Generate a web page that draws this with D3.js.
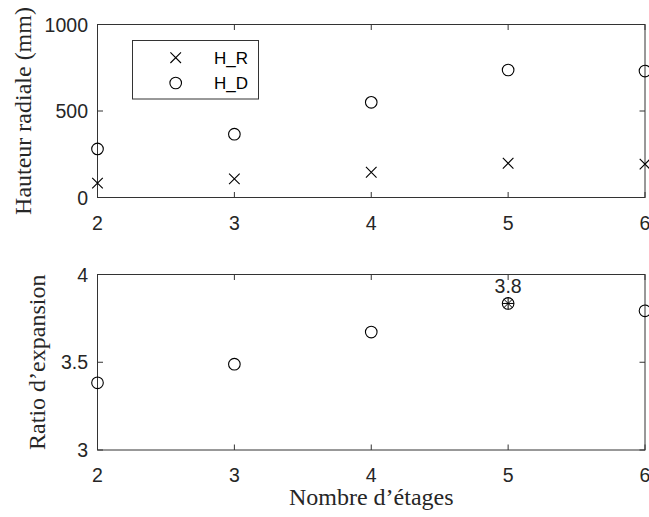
<!DOCTYPE html>
<html>
<head>
<meta charset="utf-8">
<script src="https://cdn.jsdelivr.net/npm/d3@7"></script>
<style>
  html, body { margin: 0; padding: 0; background: #fff; }
  svg { display: block; }
  .tick-label { font-family: "Liberation Sans", Arial, sans-serif; font-size: 19.5px; fill: #262626; }
  .axis-title { font-family: "Liberation Serif", "Times New Roman", serif; font-size: 24px; fill: #262626; }
  .legend-text { font-family: "Liberation Sans", Arial, sans-serif; font-size: 17px; fill: #000; }
</style>
</head>
<body>
<svg id="chart" width="649" height="517"></svg>
<script>
//------------------------------------------------------------------------------

const dLog = console.debug;

/** number of stages, shared x values of both panels */
const stages = [2, 3, 4, 5, 6];
/** radial heights (mm) */
const heightR = [83, 108, 146, 198, 193];
const heightD = [281, 366, 550, 737, 731];
/** expansion ratio per stage */
const expansionRatio = [3.383, 3.489, 3.672, 3.835, 3.793];
/** the highlighted point of the lower panel, and its label */
const pickedStage = [5];
const pickedRatio = [3.835];
const pickedLabel = ['3.8'];

const xTicks = [2, 3, 4, 5, 6];
const yTicksTop = [0, 500, 1000];
const yTicksBottom = [3, 3.5, 4];
const legendNames = ['H_R', 'H_D'];

//------------------------------------------------------------------------------

const
svg = d3.select('#chart'),
axisColour = '#333',
tickLen = 5.5,
left = 97.5, right = 645,
panels = [
  {top: 24.5, bottom: 197.5, domain: [0, 1000], ticks: yTicksTop,
   title: 'Hauteur radiale (mm)', titleX: 31},
  {top: 274.5, bottom: 450, domain: [3, 4], ticks: yTicksBottom,
   title: 'Ratio d\u2019expansion', titleX: 45},
],
x = d3.scaleLinear().domain([2, 6]).range([left, right]);

function crossPath(s) {
  return `M${-s},${-s}L${s},${s}M${-s},${s}L${s},${-s}`;
}

function drawFrame(p) {
  const
  y = d3.scaleLinear().domain(p.domain).range([p.bottom, p.top]),
  g = svg.append('g');
  g.append('rect')
    .attr('x', left).attr('y', p.top)
    .attr('width', right - left).attr('height', p.bottom - p.top)
    .attr('fill', 'none').attr('stroke', axisColour).attr('stroke-width', 1);

  // inward ticks on all 4 sides
  g.selectAll('line.xt').data(xTicks).join('line')
    .attr('class', 'xt')
    .attr('x1', d => x(d)).attr('x2', d => x(d))
    .attr('y1', p.bottom).attr('y2', p.bottom - tickLen)
    .attr('stroke', axisColour);
  g.selectAll('line.xtt').data(xTicks).join('line')
    .attr('class', 'xtt')
    .attr('x1', d => x(d)).attr('x2', d => x(d))
    .attr('y1', p.top).attr('y2', p.top + tickLen)
    .attr('stroke', axisColour);
  g.selectAll('line.yt').data(p.ticks).join('line')
    .attr('class', 'yt')
    .attr('x1', left).attr('x2', left + tickLen)
    .attr('y1', d => y(d)).attr('y2', d => y(d))
    .attr('stroke', axisColour);
  g.selectAll('line.ytr').data(p.ticks).join('line')
    .attr('class', 'ytr')
    .attr('x1', right).attr('x2', right - tickLen)
    .attr('y1', d => y(d)).attr('y2', d => y(d))
    .attr('stroke', axisColour);

  g.selectAll('text.xl').data(xTicks).join('text')
    .attr('class', 'xl tick-label')
    .attr('x', d => x(d)).attr('y', p.bottom + 32)
    .attr('text-anchor', 'middle')
    .text(d => d);
  g.selectAll('text.yl').data(p.ticks).join('text')
    .attr('class', 'yl tick-label')
    .attr('x', left - 9.5).attr('y', d => y(d))
    .attr('dy', '0.36em')
    .attr('text-anchor', 'end')
    .text(d => d3.format('~g')(d));

  g.append('text')
    .attr('class', 'axis-title')
    .attr('transform', `translate(${p.titleX},${(p.top + p.bottom) / 2}) rotate(-90)`)
    .attr('text-anchor', 'middle')
    .text(p.title);
  return y;
}

//------------------------------------------------------------------------------

const
yTop = drawFrame(panels[0]),
yBottom = drawFrame(panels[1]),
markerR = 5.8,
crossS = 5.3;

// upper panel : crosses H_R, circles H_D
svg.append('g').selectAll('path').data(stages).join('path')
  .attr('transform', (d, i) => `translate(${x(d)},${yTop(heightR[i])})`)
  .attr('d', crossPath(crossS))
  .attr('stroke', '#000').attr('stroke-width', 1.1).attr('fill', 'none');
svg.append('g').selectAll('circle').data(stages).join('circle')
  .attr('cx', d => x(d)).attr('cy', (d, i) => yTop(heightD[i]))
  .attr('r', markerR)
  .attr('stroke', '#000').attr('stroke-width', 1.1).attr('fill', 'none');

// legend
const
legend = svg.append('g'),
legendRows = [57.7, 83];
legend.append('rect')
  .attr('x', 132.5).attr('y', 40.5).attr('width', 126).attr('height', 58.5)
  .attr('fill', '#fff').attr('stroke', axisColour).attr('stroke-width', 1);
legend.append('path')
  .attr('transform', `translate(175.7,${legendRows[0]})`)
  .attr('d', crossPath(crossS))
  .attr('stroke', '#000').attr('stroke-width', 1.1).attr('fill', 'none');
legend.append('circle')
  .attr('cx', 175.7).attr('cy', legendRows[1]).attr('r', markerR)
  .attr('stroke', '#000').attr('stroke-width', 1.1).attr('fill', 'none');
legend.selectAll('text').data(legendNames).join('text')
  .attr('class', 'legend-text')
  .attr('x', 214).attr('y', (d, i) => legendRows[i])
  .attr('dy', '0.36em')
  .text(d => d);

// lower panel : circles of expansion ratio
svg.append('g').selectAll('circle').data(stages).join('circle')
  .attr('cx', d => x(d)).attr('cy', (d, i) => yBottom(expansionRatio[i]))
  .attr('r', markerR)
  .attr('stroke', '#000').attr('stroke-width', 1.1).attr('fill', 'none');

// highlighted point : asterisk over the circle, plus its value
const picked = svg.append('g').selectAll('g').data(pickedStage).join('g')
  .attr('transform', (d, i) => `translate(${x(d)},${yBottom(pickedRatio[i])})`);
picked.append('path')
  .attr('d', crossPath(4.3) + `M0,${-markerR}L0,${markerR}M${-markerR},0L${markerR},0`)
  .attr('stroke', '#000').attr('stroke-width', 1);
picked.append('text')
  .attr('class', 'tick-label')
  .attr('y', -10.5)
  .attr('text-anchor', 'middle')
  .attr('fill', '#000')
  .text((d, i) => pickedLabel[i]);

svg.append('text')
  .attr('class', 'axis-title')
  .attr('x', (left + right) / 2).attr('y', 505)
  .attr('text-anchor', 'middle')
  .text('Nombre d\u2019\u00e9tages');

dLog('drawn', stages.length);
</script>
</body>
</html>
